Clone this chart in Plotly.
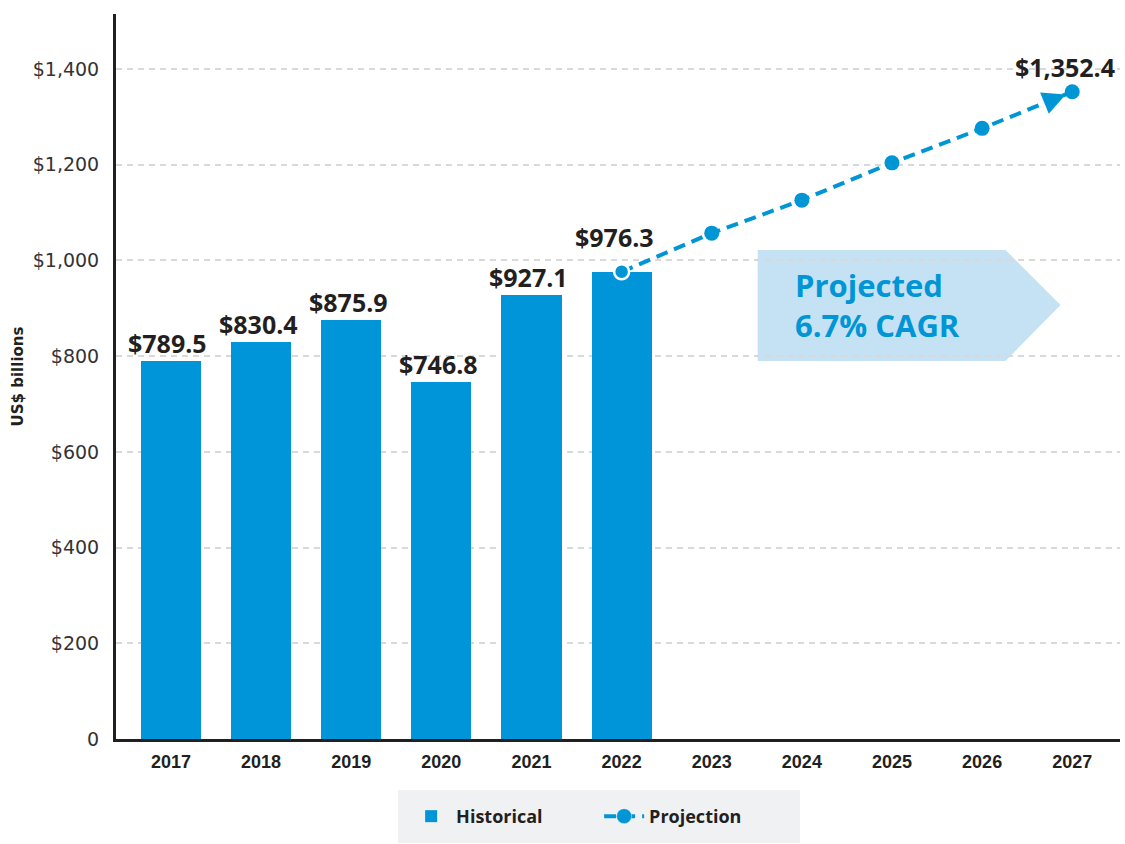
import plotly.graph_objects as go

hist_years = [2017, 2018, 2019, 2020, 2021, 2022]
hist_values = [789.5, 830.4, 875.9, 746.8, 927.1, 976.3]
hist_labels = ["$789.5", "$830.4", "$875.9", "$746.8", "$927.1", "$976.3"]

proj_years = [2022, 2023, 2024, 2025, 2026, 2027]
proj_values = [976.3, 1057, 1126, 1204, 1276, 1352.4]

all_years = [2017, 2018, 2019, 2020, 2021, 2022, 2023, 2024, 2025, 2026, 2027]
y_ticks = [0, 200, 400, 600, 800, 1000, 1200, 1400]
y_ticktext = ["0", "$200", "$400", "$600", "$800", "$1,000", "$1,200", "$1,400"]

BLUE = "#0095d9"
LINE_BLUE = "#0096d6"
DARK = "#231f20"
LEGEND_BG = "#f0f1f3"

fig = go.Figure()
fig.add_trace(go.Bar(
    x=hist_years, y=hist_values, name="<b>Historical</b>",
    marker=dict(color=BLUE, line=dict(width=0)), width=0.667,
))
fig.add_trace(go.Scatter(
    x=proj_years, y=proj_values, name="<b>Projection</b>", mode="lines+markers",
    line=dict(color=LINE_BLUE, width=4, dash="12px,7px"),
    marker=dict(size=15, color=LINE_BLUE,
                line=dict(color="white", width=[2.5, 0, 0, 0, 0, 0])),
))

# data labels
for i, (yr, v, lab) in enumerate(zip(hist_years, hist_values, hist_labels)):
    last = i == len(hist_years) - 1
    fig.add_annotation(x=yr, y=v, text="<b>%s</b>" % lab, showarrow=False,
                       xanchor="center", yanchor="bottom",
                       xshift=-7 if last else -3, yshift=16 if last else -1,
                       font=dict(family="Open Sans", size=25, color=DARK))
fig.add_annotation(x=proj_years[-1], y=proj_values[-1],
                   text="<b>$1,352.4</b>", showarrow=False,
                   xanchor="center", yanchor="bottom", xshift=-7, yshift=6,
                   font=dict(family="Open Sans", size=25, color=DARK))

# arrow head at the end of the projection line
ax_pos = proj_years[-2] + 0.8
ay_pos = proj_values[-2] + 0.8 * (proj_values[-1] - proj_values[-2])
fig.add_annotation(x=proj_years[-1], y=proj_values[-1], ax=ax_pos, ay=ay_pos,
                   axref="x", ayref="y", xref="x", yref="y", text="",
                   showarrow=True, arrowhead=2, arrowsize=1.15, arrowwidth=4,
                   arrowcolor=LINE_BLUE, standoff=7)

# callout shape
fig.add_shape(type="path", xref="x", yref="y",
              path="M 2023.51 1021.7 L 2026.26 1021.7 L 2026.87 906.8 L 2026.26 790 L 2023.51 790 Z",
              fillcolor="#c5e1f4", line=dict(width=0), layer="below")
fig.add_annotation(x=2023.9, y=906.8, xref="x", yref="y",
                   text="<b>Projected<br>6.7% CAGR</b>", showarrow=False,
                   xanchor="left", yanchor="middle", align="left",
                   font=dict(family="Open Sans", size=31, color=LINE_BLUE))

fig.update_layout(
    width=1125, height=844,
    margin=dict(l=116, r=5, t=14, b=105, autoexpand=False),
    paper_bgcolor="white", plot_bgcolor="white",
    showlegend=True,
    legend=dict(orientation="h", x=0.281, xanchor="left", y=-0.0703, yanchor="top",
                bgcolor=LEGEND_BG, bordercolor=LEGEND_BG, borderwidth=8,
                font=dict(family="Open Sans", size=18, color=DARK),
                entrywidth=138, itemwidth=40, traceorder="normal"),
    bargap=0,
)
fig.update_xaxes(
    range=[2016.39, 2027.53], tickvals=all_years, ticktext=[str(y) for y in all_years],
    showgrid=False, zeroline=False, showline=True, linecolor=DARK, linewidth=3,
    ticks="", ticklabelstandoff=4, automargin=False,
    tickfont=dict(family="Liberation Sans", size=18, color=DARK, weight="bold"),
)
fig.update_yaxes(
    range=[0, 1515], tickvals=y_ticks, ticktext=y_ticktext,
    showgrid=True, gridcolor="#d9d9d9", griddash="6px,5px", gridwidth=1.5,
    zeroline=False, showline=True, linecolor=DARK, linewidth=3,
    ticks="", ticklabelstandoff=10, automargin=False,
    tickfont=dict(family="DejaVu Sans", size=19, color="#333333"),
    title=dict(text="<b>US$ billions</b>", standoff=6,
               font=dict(family="DejaVu Sans", size=15, color=DARK)),
)

fig.write_html("out.html", config={"displayModeBar": False},
               post_script="document.body.style.margin='0px';")
